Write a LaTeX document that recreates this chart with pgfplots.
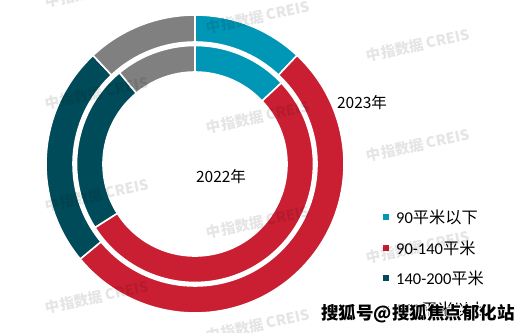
\documentclass[border=0pt]{standalone}
\usepackage{pgfplots}
\pgfplotsset{compat=1.18}
\usepackage{pgfplotstable}
\usepackage{fontspec}
\newfontfamily\cjk{Noto Sans CJK SC}
\newfontfamily\lat{Carlito}
\definecolor{seg0}{RGB}{0,150,182}
\definecolor{seg1}{RGB}{202,31,50}
\definecolor{seg2}{RGB}{0,75,90}
\definecolor{seg3}{RGB}{128,128,128}

\pgfplotstableread{
share
12
52
24
12
}\outerdata
\pgfplotstableread{
share
13
53
23
11
}\innerdata

\newcommand\ring[3]{%
  \def\cum{0}%
  \pgfplotsforeachungrouped \i in {0,...,3}{%
    \pgfplotstablegetelem{\i}{share}\of#1%
    \pgfmathsetmacro\aA{90-3.6*\cum}%
    \pgfmathsetmacro\cumB{\cum+\pgfplotsretval}%
    \pgfmathsetmacro\aB{90-3.6*\cumB}%
    \pgfmathsetmacro\xA{195+#3*cos(\aA)}%
    \pgfmathsetmacro\yA{169+#3*sin(\aA)}%
    \pgfmathsetmacro\xB{195+#2*cos(\aB)}%
    \pgfmathsetmacro\yB{169+#2*sin(\aB)}%
    \edef\tmp{\noexpand\fill[fill=seg\i, draw=white, line width=1.6bp] (axis cs:\xA,\yA) arc[start angle=\aA, end angle=\aB, radius=#3bp] -- (axis cs:\xB,\yB) arc[start angle=\aB, end angle=\aA, radius=#2bp] -- cycle;}%
    \tmp
    \let\cum\cumB
  }%
}

\newcommand\wm[2]{\node[rotate=12, text=black, text opacity=0.1, font=\cjk\bfseries\fontsize{14.5bp}{16bp}\selectfont] at (axis cs:#1,#2) {中指数据 CREIS};}
\newcommand\sh[3]{\node[font=\cjk\bfseries\fontsize{17.5bp}{19bp}\selectfont, text=#3, inner sep=0pt] at (axis cs:#1,#2) {搜狐号@搜狐焦点郁化站};}

\begin{document}
\begin{tikzpicture}
\begin{axis}[
  scale only axis, width=518bp, height=333bp,
  xmin=0, xmax=518, ymin=0, ymax=333,
  hide axis, clip=false,
  at={(0,0)}, anchor=south west,
]
\ring{\outerdata}{122}{149}
\ring{\innerdata}{92}{118.5}

\node[font=\cjk\fontsize{15.5bp}{18bp}\selectfont] at (axis cs:362,230) {2023年};
\node[font=\cjk\fontsize{15.5bp}{18bp}\selectfont] at (axis cs:221,156) {2022年};

% legend
\fill[seg0] (axis cs:383,113) rectangle (axis cs:389,119);
\node[anchor=west, inner sep=0pt] at (axis cs:396,116) {{\lat\fontsize{16.5bp}{18bp}\selectfont 90}{\cjk\fontsize{16.2bp}{18bp}\selectfont 平米以下}};
\fill[seg1] (axis cs:383,82) rectangle (axis cs:389,88);
\node[anchor=west, inner sep=0pt] at (axis cs:396,85) {{\lat\fontsize{16.5bp}{18bp}\selectfont 90-140}{\cjk\fontsize{16.2bp}{18bp}\selectfont 平米}};
\fill[seg2] (axis cs:383,52) rectangle (axis cs:389,58);
\node[anchor=west, inner sep=0pt] at (axis cs:396,55) {{\lat\fontsize{16.5bp}{18bp}\selectfont 140-200}{\cjk\fontsize{16.2bp}{18bp}\selectfont 平米}};
\fill[seg3] (axis cs:383,21) rectangle (axis cs:389,27);
\node[anchor=west, inner sep=0pt] at (axis cs:396,24) {{\lat\fontsize{16.5bp}{18bp}\selectfont 200}{\cjk\fontsize{16.2bp}{18bp}\selectfont 平米以上}};

% watermarks
\wm{97}{342}\wm{97}{240}\wm{97}{138}\wm{97}{36}
\wm{258}{316}\wm{258}{216}\wm{258}{111}\wm{258}{8}
\wm{418}{288}\wm{418}{188}\wm{418}{86}
\wm{-63}{265}\wm{-63}{163}\wm{-63}{61}
\wm{578}{215}\wm{578}{113}

\sh{417}{19}{white}\sh{419}{19}{white}\sh{418}{18}{white}\sh{418}{20}{white}
\sh{418}{19}{black}
\end{axis}
\pgfresetboundingbox
\path (0,0) rectangle (518bp,333bp);
\end{tikzpicture}
\end{document}
